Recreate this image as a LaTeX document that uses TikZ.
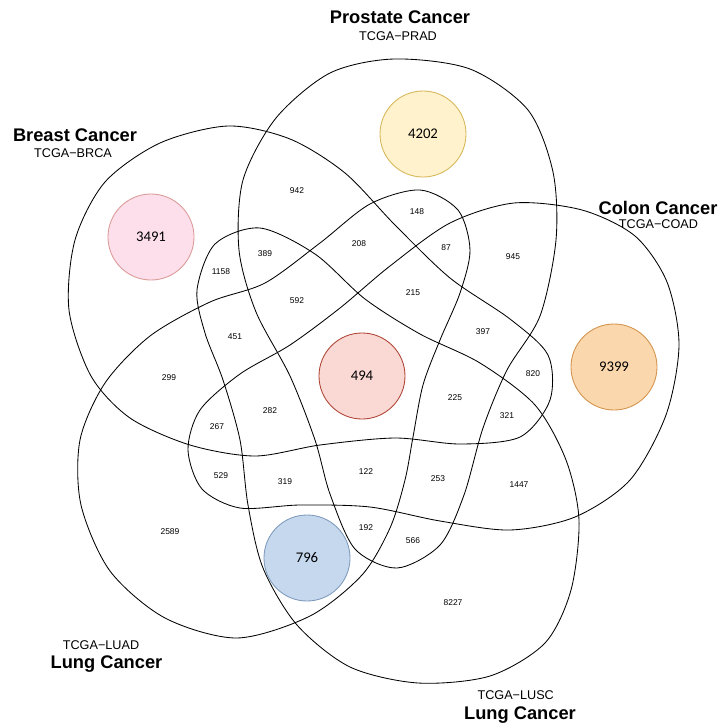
\documentclass[tikz,border=0pt]{standalone}
\usepackage{fontspec}
\setmainfont{Liberation Sans}
\newfontfamily\numfont{Carlito}
\definecolor{pinkfill}{HTML}{FDDFEC}
\definecolor{pinkline}{HTML}{D99A96}
\definecolor{yellowfill}{HTML}{FFF2CC}
\definecolor{yellowline}{HTML}{D6B656}
\definecolor{orangefill}{HTML}{FAD7AC}
\definecolor{orangeline}{HTML}{D3914A}
\definecolor{redfill}{HTML}{FAD9D5}
\definecolor{redline}{HTML}{AE4132}
\definecolor{bluefill}{HTML}{C5D8EE}
\definecolor{blueline}{HTML}{7D99BC}
\tikzset{
    setline/.style={
        draw=black,
        line width=0.6pt % outline of one set
    },
    countnode/.style={
        inner sep=0,
        font=\fontsize{6}{7}\selectfont
    },
    titlenode/.style={
        anchor=base,
        inner sep=0,
        font=\fontsize{13}{15}\selectfont\bfseries
    },
    subnode/.style={
        anchor=base,
        inner sep=0,
        font=\fontsize{9}{11}\selectfont
    },
    bignode/.style={
        circle,
        line width=0.6pt,
        minimum size=2.15cm,
        inner sep=0,
        font=\numfont\fontsize{10.5}{12}\selectfont
    },
    pinknode/.style={bignode, draw=pinkline, fill=pinkfill},
    yellownode/.style={bignode, draw=yellowline, fill=yellowfill},
    orangenode/.style={bignode, draw=orangeline, fill=orangefill},
    rednode/.style={bignode, draw=redline, fill=redfill},
    bluenode/.style={bignode, draw=blueline, fill=bluefill}
}
\begin{document}
\begin{tikzpicture}[x=0.025cm, y=-0.025cm]
    \useasboundingbox (0,0) rectangle (723,725);
    % Prostate
    \draw[setline] plot[smooth cycle] coordinates {
        (394,59) (470,69) (528,110) (553,172) (556,240) (540,316) (507,370)
        (483,428) (464,495) (440,545) (397,568) (355,549) (330,494) (315,440)
        (290,376) (256,312) (239,250) (243,180) (276,118) (330,73)};
    % Breast
    \draw[setline] plot[smooth cycle] coordinates {
        (228,126) (290,139) (345,173) (395,225) (450,278) (510,319) (548,355)
        (550,400) (520,437) (460,444) (395,438) (320,445) (255,456) (190,445)
        (130,418) (91,376) (69,310) (75,240) (105,182) (160,143)};
    % Colon
    \draw[setline] plot[smooth cycle] coordinates {
        (514,203) (582,210) (635,236) (667,282) (679,345) (666,415) (630,480)
        (575,517) (510,530) (440,521) (370,507) (300,505) (240,508) (202,489)
        (188,450) (200,410) (240,374) (290,345) (340,308) (390,266) (450,223)};
    % LUSC
    \draw[setline] plot[smooth cycle] coordinates {
        (418,683) (490,676) (545,643) (571,590) (579,520) (566,460) (535,405)
        (480,363) (420,334) (365,299) (315,254) (260,228) (215,244) (197,290)
        (205,333) (223,380) (240,440) (248,505) (263,568) (297,625) (350,667)};
    % LUAD
    \draw[setline] plot[smooth cycle] coordinates {
        (370,204) (420,190) (458,210) (470,250) (460,293) (440,340) (423,385)
        (413,437) (405,480) (390,528) (362,575) (310,616) (237,638) (165,618)
        (110,571) (81,505) (80,440) (105,383) (150,336) (210,302) (265,283)
        (320,243)};

    % titles
    \node[titlenode] (prostate) at (400,23.6) {Prostate Cancer};
    \node[subnode] (prad) at (398,40.5) {TCGA−PRAD};
    \node[titlenode] (breast) at (75,141.6) {Breast Cancer};
    \node[subnode] (brca) at (73,157.5) {TCGA−BRCA};
    \node[titlenode] (colon) at (658,214.6) {Colon Cancer};
    \node[subnode] (coad) at (658.5,228.5) {TCGA−COAD};
    \node[subnode] (luad) at (101,649.5) {TCGA−LUAD};
    \node[titlenode] (lungad) at (106.5,668.6) {Lung Cancer};
    \node[subnode] (lusc) at (515.7,699.7) {TCGA−LUSC};
    \node[titlenode] (lungsc) at (520,719.6) {Lung Cancer};

    % coloured counts
    \node[pinknode] (nbrca) at (151,237) {3491};
    \node[yellownode] (nprad) at (423,134) {4202};
    \node[orangenode] (ncoad) at (614,367) {9399};
    \node[rednode] (nall) at (362,376) {494};
    \node[bluenode] (nlusc) at (307,558) {796};

    % region counts
    \node[countnode] (c942) at (297,191) {942};
    \node[countnode] (c148) at (417,212) {148};
    \node[countnode] (c87) at (446,248) {87};
    \node[countnode] (c945) at (513,257) {945};
    \node[countnode] (c208) at (359,244) {208};
    \node[countnode] (c389) at (265,254) {389};
    \node[countnode] (c1158) at (221,272) {1158};
    \node[countnode] (c592) at (297,301) {592};
    \node[countnode] (c215) at (413,293) {215};
    \node[countnode] (c397) at (483,332) {397};
    \node[countnode] (c451) at (235,337) {451};
    \node[countnode] (c299) at (169,378) {299};
    \node[countnode] (c820) at (533,374) {820};
    \node[countnode] (c282) at (270,411) {282};
    \node[countnode] (c267) at (217,427) {267};
    \node[countnode] (c225) at (455,398) {225};
    \node[countnode] (c321) at (507,416) {321};
    \node[countnode] (c529) at (221,476) {529};
    \node[countnode] (c319) at (285,482) {319};
    \node[countnode] (c122) at (366,472) {122};
    \node[countnode] (c253) at (438,479) {253};
    \node[countnode] (c1447) at (519,485) {1447};
    \node[countnode] (c2589) at (170,532) {2589};
    \node[countnode] (c192) at (366,528) {192};
    \node[countnode] (c566) at (413,541) {566};
    \node[countnode] (c8227) at (453,603) {8227};
\end{tikzpicture}
\end{document}
